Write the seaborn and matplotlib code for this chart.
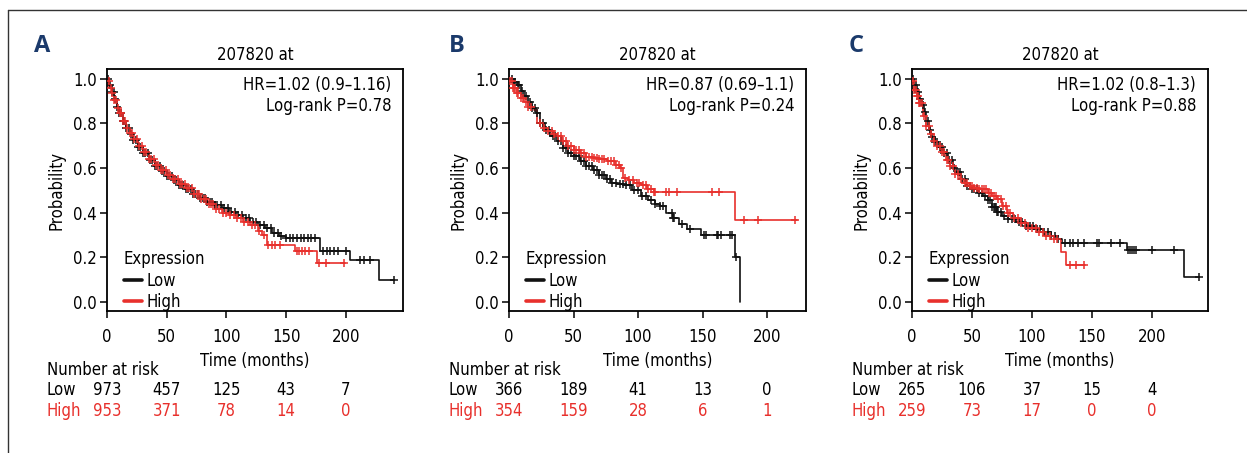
import numpy as np
import pandas as pd
import matplotlib
matplotlib.use("Agg")
import matplotlib.pyplot as plt
import matplotlib.transforms as mtransforms
from matplotlib.lines import Line2D
import seaborn as sns

# ---------------- data ----------------
panel_letters = ["A", "B", "C"]
probe_title = "207820 at"
hr_texts = ["HR=1.02 (0.9\u20131.16)", "HR=0.87 (0.69\u20131.1)", "HR=1.02 (0.8\u20131.3)"]
p_texts = ["Log-rank P=0.78", "Log-rank P=0.24", "Log-rank P=0.88"]
groups = ["Low", "High"]
risk_times = [0, 50, 100, 150, 200]
x_ticks = [0, 50, 100, 150, 200]
y_ticks = [0.0, 0.2, 0.4, 0.6, 0.8, 1.0]

# Panel A
A_low_t = [0, 2, 4, 6, 8, 10, 13, 16, 19, 22, 26, 30, 35, 40, 45, 50, 55, 60, 66, 72, 78, 84, 90, 96,
           102, 108, 114, 120, 126, 132, 138, 144, 150, 178, 203, 228, 240]
A_low_s = [1.0, 0.97, 0.94, 0.91, 0.875, 0.845, 0.81, 0.78, 0.75, 0.725, 0.695, 0.665, 0.635, 0.61,
           0.585, 0.565, 0.545, 0.525, 0.505, 0.485, 0.465, 0.45, 0.435, 0.42, 0.405, 0.39, 0.375,
           0.36, 0.345, 0.33, 0.31, 0.295, 0.285, 0.229, 0.19, 0.099, 0.099]
A_high_t = [0, 2, 4, 6, 8, 10, 13, 16, 19, 22, 26, 30, 35, 40, 45, 50, 55, 60, 66, 72, 78, 84, 90, 96,
            102, 108, 114, 120, 126, 130, 133.6, 157, 175.5, 199]
A_high_s = [0.99, 0.96, 0.935, 0.905, 0.87, 0.845, 0.81, 0.78, 0.755, 0.73, 0.70, 0.67, 0.64, 0.615,
            0.59, 0.57, 0.55, 0.53, 0.51, 0.485, 0.46, 0.44, 0.415, 0.40, 0.39, 0.375, 0.36, 0.345,
            0.32, 0.30, 0.256, 0.23, 0.173, 0.173]
A_low_cens = [1, 2.5, 4, 5.5, 7, 8.5, 10, 11.5, 13, 14.5, 16, 18, 20, 22, 24, 26, 28, 30, 32, 34, 36,
              38, 40, 42, 44, 46, 48, 50, 52, 54, 56, 58, 60, 62, 64, 66, 68, 70, 72, 74, 76, 78, 80,
              82, 84, 86, 88, 90, 92, 95, 98, 101, 104, 107, 110, 113, 116, 119, 122, 125, 128, 131,
              134, 137, 140, 143, 146, 150, 153, 156, 159, 162, 165, 168, 171, 174, 181, 184, 187,
              190, 193, 200, 212, 215, 220, 240]
A_high_cens = [1.5, 3, 4.5, 6, 7.5, 9, 10.5, 12, 13.5, 15, 17, 19, 21, 23, 25, 27, 29, 31, 33, 35, 37,
               39, 41, 43, 45, 47, 49, 51, 53, 55, 57, 59, 61, 63, 65, 67, 69, 71, 73, 75, 77, 79, 81,
               83, 85, 87, 89, 91, 94, 97, 100, 103, 106, 109, 112, 115, 118, 121, 124, 127, 131, 135,
               138, 141, 145, 159, 160.5, 163, 166, 169, 177, 183, 198]
A_risk_low = [973, 457, 125, 43, 7]
A_risk_high = [953, 371, 78, 14, 0]

# Panel B
B_low_t = [0, 3, 6, 9, 12, 15, 18, 21, 24, 28, 32, 37, 42, 46, 50, 55, 60, 65, 70, 75, 79, 84, 89,
           95, 102, 108, 113, 117, 122, 127, 132, 138, 149, 175, 179]
B_low_s = [1.0, 0.985, 0.97, 0.945, 0.92, 0.895, 0.87, 0.846, 0.80, 0.77, 0.745, 0.72, 0.69, 0.665,
           0.652, 0.63, 0.61, 0.593, 0.57, 0.55, 0.533, 0.53, 0.526, 0.50, 0.473, 0.455, 0.44,
           0.429, 0.40, 0.377, 0.35, 0.327, 0.302, 0.202, 0.0]
B_high_t = [0, 3, 6, 9, 12, 15, 19, 21.7, 26, 30, 34, 37, 41, 45, 50, 55, 60, 65, 70, 76, 82, 86, 88,
            92, 97, 102, 107, 112, 175, 223]
B_high_s = [0.99, 0.96, 0.935, 0.915, 0.895, 0.875, 0.861, 0.80, 0.78, 0.765, 0.75, 0.742, 0.72,
            0.70, 0.682, 0.665, 0.65, 0.645, 0.64, 0.63, 0.615, 0.60, 0.556, 0.545, 0.535, 0.526,
            0.505, 0.491, 0.369, 0.369]
B_low_cens = [2, 4, 5, 7, 8, 10, 13, 16, 18, 20, 22, 24, 26, 29, 31, 34, 36, 38, 40, 42, 44, 46, 48,
              50, 52, 54, 56, 58, 60, 62, 64, 66, 68, 70, 72, 74, 76, 78, 80, 83, 86, 88, 91, 94, 97,
              100, 103, 106, 110, 113, 117, 119, 126, 127, 128, 134, 140, 151, 153, 161, 162, 164,
              171, 173, 176]
B_high_cens = [1, 2, 3, 4, 5, 6, 7, 9, 11, 13, 15, 17, 24, 27, 30, 33, 35, 38, 40, 42, 44, 46, 48, 50,
               52, 54, 56, 58, 60, 62, 64, 66, 68, 70, 72, 74, 77, 79, 81, 83, 85, 87, 90, 93, 96, 99,
               101, 104, 106, 108, 110, 112, 113, 122, 124, 130, 157, 163, 182, 193, 222]
B_risk_low = [366, 189, 41, 13, 0]
B_risk_high = [354, 159, 28, 6, 1]

# Panel C
C_low_t = [0, 2, 4, 6, 8, 10, 12, 14, 16, 19, 22, 26, 30, 34, 37, 41, 45, 50, 55, 59, 63, 67, 70.6,
           75, 80, 87, 95, 102, 109, 116, 121, 125, 179.4, 227, 239]
C_low_s = [1.0, 0.97, 0.94, 0.91, 0.88, 0.85, 0.81, 0.77, 0.74, 0.715, 0.695, 0.669, 0.635, 0.60,
           0.58, 0.55, 0.52, 0.505, 0.49, 0.475, 0.455, 0.425, 0.401, 0.385, 0.37, 0.357, 0.34,
           0.325, 0.312, 0.295, 0.28, 0.263, 0.233, 0.114, 0.114]
C_high_t = [0, 2, 4, 6, 9.4, 12, 15, 18, 20.6, 24, 28, 31.7, 36, 40, 42.8, 47, 52, 56, 59, 63, 67,
            70.6, 75, 78.9, 84, 90, 97, 104, 111, 118, 124, 128, 144]
C_high_s = [0.99, 0.95, 0.92, 0.89, 0.832, 0.79, 0.75, 0.72, 0.698, 0.67, 0.635, 0.609, 0.575, 0.55,
            0.535, 0.52, 0.51, 0.505, 0.505, 0.49, 0.475, 0.46, 0.43, 0.40, 0.375, 0.355, 0.33,
            0.312, 0.295, 0.282, 0.226, 0.166, 0.166]
C_low_cens = [1, 3, 5, 7, 9, 11, 13, 15, 17, 19, 21, 23, 25, 27, 29, 31, 33, 35, 38, 40, 42, 44, 46,
              48, 50, 52, 54, 56, 58, 61, 63, 65, 67, 68, 69, 70, 71, 72, 74, 77, 80, 83, 86, 89, 92,
              95, 98, 101, 104, 107, 110, 113, 116, 119, 122, 127.5, 132, 134, 138, 143, 154, 156,
              166, 173, 180, 181.7, 183, 185, 187, 200, 218, 239]
C_high_cens = [1, 2, 3, 4, 5, 6, 7, 8, 10, 12, 14, 16, 18, 21, 23, 25, 27, 29, 30, 32, 34, 36, 38,
               41, 44, 46, 48, 50, 52, 54, 56, 58, 60, 62, 64, 66, 68, 70, 72, 74, 76, 78, 80, 82,
               85, 88, 91, 94, 97, 100, 103, 106, 109, 112, 115, 118, 121, 131.7, 137, 143]
C_risk_low = [265, 106, 37, 15, 4]
C_risk_high = [259, 73, 17, 0, 0]

panels = [
    dict(low_t=A_low_t, low_s=A_low_s, high_t=A_high_t, high_s=A_high_s,
         low_c=A_low_cens, high_c=A_high_cens, r_low=A_risk_low, r_high=A_risk_high),
    dict(low_t=B_low_t, low_s=B_low_s, high_t=B_high_t, high_s=B_high_s,
         low_c=B_low_cens, high_c=B_high_cens, r_low=B_risk_low, r_high=B_risk_high),
    dict(low_t=C_low_t, low_s=C_low_s, high_t=C_high_t, high_s=C_high_s,
         low_c=C_low_cens, high_c=C_high_cens, r_low=C_risk_low, r_high=C_risk_high),
]

# ---------------- style ----------------
sns.set_theme(style="ticks")
plt.rcParams["font.family"] = ["DejaVu Sans Condensed", "Liberation Sans Narrow", "DejaVu Sans"]
plt.rcParams["font.stretch"] = "condensed"
plt.rcParams["axes.linewidth"] = 1.2
plt.rcParams["axes.edgecolor"] = "black"
plt.rcParams["text.color"] = "black"
plt.rcParams["axes.labelcolor"] = "black"
plt.rcParams["xtick.color"] = "black"
plt.rcParams["ytick.color"] = "black"

BLACK = "#111111"
RED = "#e8302c"
colors = {"Low": BLACK, "High": RED}
FS = 12

W, H = 1247, 453
fig = plt.figure(figsize=(W / 100, H / 100), dpi=100)
fig.patch.set_facecolor("white")

# frame around the figure (top and left edges visible)
fig.add_artist(Line2D([8 / W, 1.0], [1 - 10 / H, 1 - 10 / H], transform=fig.transFigure,
                      color="#333333", lw=1.0))
fig.add_artist(Line2D([8 / W, 8 / W], [0, 1 - 10 / H], transform=fig.transFigure,
                      color="#333333", lw=1.0))

axes_px = [(107, 296, 247.7), (509, 297, 230.2), (912, 296, 246.7)]
letter_x = [34, 449, 849]
ax_top, ax_bot = 69, 311


def step_value(ts, ss, t):
    idx = np.searchsorted(np.asarray(ts), t, side="right") - 1
    return np.asarray(ss)[np.clip(idx, 0, len(ss) - 1)]


for i, (pd_, (left, width, xmax)) in enumerate(zip(panels, axes_px)):
    ax = fig.add_axes([left / W, (H - ax_bot) / H, width / W, (ax_bot - ax_top) / H])
    for g in groups:
        ts = pd_["low_t"] if g == "Low" else pd_["high_t"]
        ss = pd_["low_s"] if g == "Low" else pd_["high_s"]
        cs = pd_["low_c"] if g == "Low" else pd_["high_c"]
        df = pd.DataFrame({"time": ts, "surv": ss})
        sns.lineplot(data=df, x="time", y="surv", ax=ax, color=colors[g], lw=1.2,
                     drawstyle="steps-post", estimator=None, sort=False, label=g)
        cdf = pd.DataFrame({"time": cs, "surv": step_value(ts, ss, cs)})
        sns.scatterplot(data=cdf, x="time", y="surv", ax=ax, marker="+", s=40,
                        color=colors[g], linewidth=1.1, legend=False, zorder=3)

    ax.set_xlim(0, xmax)
    ax.set_ylim(-0.04, 1.043)
    ax.set_xticks(x_ticks)
    ax.set_yticks(y_ticks)
    ax.set_yticklabels([f"{v:.1f}" for v in y_ticks])
    ax.tick_params(axis="both", direction="out", length=5, width=1.1, labelsize=FS,
                   colors="black")
    ax.tick_params(axis="x", pad=7)
    ax.tick_params(axis="y", pad=2.5)
    for sp in ax.spines.values():
        sp.set_visible(True)
        sp.set_linewidth(1.3)
        sp.set_color("black")

    ax.set_title(probe_title, fontsize=FS, pad=6.5)
    ax.set_xlabel("Time (months)", fontsize=FS)
    ax.set_ylabel("Probability", fontsize=FS)
    ax.xaxis.set_label_coords(0.5, -0.168)
    ax.yaxis.set_label_coords(-0.139, 0.5)

    ax.text(0.96, 0.934, hr_texts[i], transform=ax.transAxes, ha="right", va="center",
            fontsize=FS)
    ax.text(0.96, 0.847, p_texts[i], transform=ax.transAxes, ha="right", va="center",
            fontsize=FS)

    leg = ax.legend(title="Expression", loc="lower left", bbox_to_anchor=(0.057, 0.0),
                    frameon=False, fontsize=FS, title_fontsize=FS, borderpad=0,
                    borderaxespad=0, labelspacing=0.2, handlelength=1.1,
                    handletextpad=0.25, alignment="left")
    for h in leg.get_lines():
        h.set_linewidth(2.6)

    # number at risk table
    trans = mtransforms.blended_transform_factory(ax.transData, ax.transAxes)
    ax.text(-0.203, -0.244, "Number at risk", transform=ax.transAxes, ha="left",
            va="center", fontsize=FS, clip_on=False)
    ax.text(-0.203, -0.326, "Low", transform=ax.transAxes, ha="left", va="center",
            fontsize=FS, color="black", clip_on=False)
    ax.text(-0.203, -0.413, "High", transform=ax.transAxes, ha="left", va="center",
            fontsize=FS, color=RED, clip_on=False)
    for t, nl, nh in zip(risk_times, pd_["r_low"], pd_["r_high"]):
        ax.text(t, -0.326, str(nl), transform=trans, ha="center", va="center",
                fontsize=FS, color="black", clip_on=False)
        ax.text(t, -0.413, str(nh), transform=trans, ha="center", va="center",
                fontsize=FS, color=RED, clip_on=False)

    fig.text(letter_x[i] / W, 1 - 52 / H, panel_letters[i], fontsize=17, fontweight="bold",
             color="#1b3a6b", ha="left", va="baseline",
             family=["Open Sans", "DejaVu Sans"])

fig.savefig("out.png", dpi=100, facecolor="white")
